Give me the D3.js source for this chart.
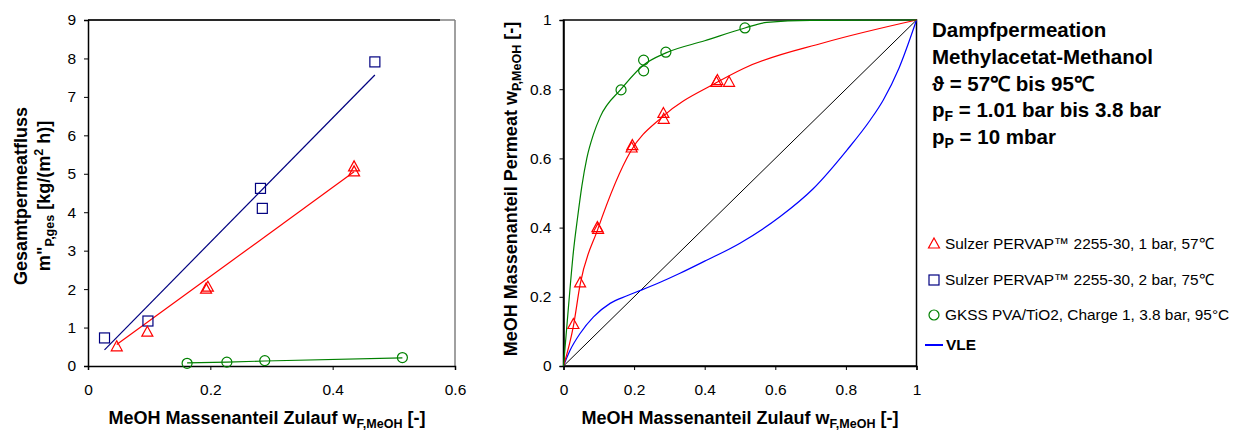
<!DOCTYPE html>
<html>
<head>
<meta charset="utf-8">
<style>
  body { margin: 0; background: #fff; }
  text { font-family: "Liberation Sans", Arial, sans-serif; }
</style>
</head>
<body>
<div id="chart"></div>
<script src="https://d3js.org/d3.v7.min.js"></script>
<script>
// ---- data: left chart (total permeate flux) ----
var fluxTriX = [0.047, 0.097, 0.193, 0.196, 0.435, 0.435];
var fluxTriY = [0.50, 0.88, 2.00, 2.05, 5.05, 5.18];
var fluxSqX = [0.027, 0.098, 0.282, 0.285, 0.469];
var fluxSqY = [0.73, 1.17, 4.62, 4.10, 7.91];
var fluxCircX = [0.162, 0.227, 0.289, 0.514];
var fluxCircY = [0.07, 0.10, 0.14, 0.22];
var fitTriX = [0.047, 0.435];
var fitTriY = [0.56, 5.05];
var fitSqX = [0.027, 0.469];
var fitSqY = [0.42, 7.57];
var fitCircX = [0.162, 0.227, 0.289, 0.514];
var fitCircY = [0.08, 0.10, 0.13, 0.21];
var fluxXTicks = [0, 0.2, 0.4, 0.6];
var fluxYTicks = [0, 1, 2, 3, 4, 5, 6, 7, 8, 9];

// ---- data: right chart (separation diagram) ----
var selTriX = [0.028, 0.047, 0.096, 0.098, 0.193, 0.195, 0.283, 0.284, 0.433, 0.436, 0.469];
var selTriY = [0.12, 0.24, 0.40, 0.395, 0.63, 0.637, 0.73, 0.713, 0.82, 0.825, 0.82];
var selCircX = [0.163, 0.227, 0.227, 0.290, 0.514];
var selCircY = [0.798, 0.884, 0.853, 0.907, 0.977];
var curveTriX = [0, 0.028, 0.047, 0.097, 0.19, 0.28, 0.435, 0.51, 0.74, 1];
var curveTriY = [0, 0.115, 0.235, 0.395, 0.62, 0.72, 0.82, 0.86, 0.935, 1];
var curveCircX = [0, 0.014, 0.028, 0.04, 0.052, 0.066, 0.085, 0.104, 0.163, 0.227, 0.29, 0.4, 0.514, 0.576, 0.7, 1];
var curveCircY = [0, 0.17, 0.33, 0.43, 0.52, 0.6, 0.67, 0.72, 0.80, 0.87, 0.905, 0.94, 0.977, 0.993, 0.999, 1];
var vleX = [0, 0.019, 0.047, 0.085, 0.132, 0.18, 0.222, 0.274, 0.33, 0.4, 0.5, 0.614, 0.708, 0.803, 0.869, 0.906, 0.95, 1];
var vleY = [0, 0.046, 0.094, 0.142, 0.181, 0.203, 0.220, 0.242, 0.268, 0.303, 0.355, 0.432, 0.513, 0.624, 0.711, 0.769, 0.86, 1];
var diagX = [0, 1];
var diagY = [0, 1];
var selTicks = [0, 0.2, 0.4, 0.6, 0.8, 1];

var legendLabels = ["Sulzer PERVAP\u2122 2255-30, 1 bar, 57\u2103",
                    "Sulzer PERVAP\u2122 2255-30, 2 bar, 75\u2103",
                    "GKSS PVA/TiO2, Charge 1, 3.8 bar, 95\u00b0C",
                    "VLE"];

var width = 1239;
var height = 432;
var svg = d3.select("#chart").append("svg")
  .attr("width", width)
  .attr("height", height);

function zip(xs, ys) {
  return xs.map(function(x, i) { return [x, ys[i]]; });
}

function fmt(d) { return d === 0 ? "0" : d3.format("~g")(d); }

// markers
function triangle(g, x, y, color) {
  g.append("path")
    .attr("d", "M" + x + "," + (y - 6) + " L" + (x + 5.5) + "," + (y + 4) + " L" + (x - 5.5) + "," + (y + 4) + " Z")
    .attr("fill", "none").attr("stroke", color).attr("stroke-width", 1.2);
}
function square(g, x, y, color) {
  g.append("rect")
    .attr("x", x - 5).attr("y", y - 5).attr("width", 10).attr("height", 10)
    .attr("fill", "none").attr("stroke", color).attr("stroke-width", 1.2);
}
function circle(g, x, y, color) {
  g.append("circle")
    .attr("cx", x).attr("cy", y).attr("r", 5)
    .attr("fill", "none").attr("stroke", color).attr("stroke-width", 1.2);
}

var red = "#ff0000", navy = "#000080", green = "#008000", blue = "#0000ff";
var tickFont = 15.5, titleFont = 18, subFont = 12.5;

function styleAxis(g) {
  g.select(".domain").attr("stroke-width", 1.5);
  g.selectAll("text").attr("font-size", tickFont).attr("font-family", "Liberation Sans, Arial");
}

// ================= left chart =================
var x1 = d3.scaleLinear().domain([0, 0.6]).range([88, 455]);
var y1 = d3.scaleLinear().domain([0, 9]).range([366, 20]);
var left = svg.append("g");

// frame: grey right edge, black top
left.append("line").attr("x1", 455).attr("x2", 455).attr("y1", 20).attr("y2", 366)
  .attr("stroke", "#808080").attr("stroke-width", 1.5);
left.append("line").attr("x1", 88).attr("x2", 455).attr("y1", 20).attr("y2", 20)
  .attr("stroke", "#808080").attr("stroke-width", 1.5);
left.append("line").attr("x1", 88).attr("x2", 440).attr("y1", 20).attr("y2", 20)
  .attr("stroke", "#000").attr("stroke-width", 1.5);

left.append("g").attr("transform", "translate(0,366)")
  .call(d3.axisBottom(x1).tickValues(fluxXTicks).tickSize(4).tickPadding(14).tickFormat(fmt))
  .call(styleAxis);
left.append("g").attr("transform", "translate(88,0)")
  .call(d3.axisLeft(y1).tickValues(fluxYTicks).tickSize(4).tickPadding(8).tickFormat(fmt))
  .call(styleAxis);

var line1 = d3.line().x(function(d) { return x1(d[0]); }).y(function(d) { return y1(d[1]); });
left.append("path").attr("d", line1(zip(fitSqX, fitSqY))).attr("fill", "none").attr("stroke", navy).attr("stroke-width", 1.2);
left.append("path").attr("d", line1(zip(fitTriX, fitTriY))).attr("fill", "none").attr("stroke", red).attr("stroke-width", 1.2);
left.append("path").attr("d", line1(zip(fitCircX, fitCircY))).attr("fill", "none").attr("stroke", green).attr("stroke-width", 1.2);

fluxSqX.forEach(function(v, i) { square(left, x1(v), y1(fluxSqY[i]), navy); });
fluxTriX.forEach(function(v, i) { triangle(left, x1(v), y1(fluxTriY[i]), red); });
fluxCircX.forEach(function(v, i) { circle(left, x1(v), y1(fluxCircY[i]), green); });

// axis titles
var xt1 = left.append("text").attr("x", 267).attr("y", 424).attr("text-anchor", "middle")
  .attr("font-size", titleFont).attr("font-weight", "bold");
xt1.append("tspan").text("MeOH Massenanteil Zulauf w");
xt1.append("tspan").attr("font-size", subFont).attr("dy", 4).text("F,MeOH");
xt1.append("tspan").attr("dy", -4).text(" [-]");

var yt1 = left.append("g").attr("transform", "translate(27,196) rotate(-90)");
yt1.append("text").attr("text-anchor", "middle").attr("font-size", titleFont).attr("font-weight", "bold")
  .text("Gesamtpermeatfluss");
var yt1b = yt1.append("text").attr("y", 23).attr("text-anchor", "middle").attr("font-size", titleFont).attr("font-weight", "bold");
yt1b.append("tspan").text("m\"");
yt1b.append("tspan").attr("font-size", subFont).attr("dy", 4).text("P,ges");
yt1b.append("tspan").attr("dy", -4).text(" [kg/(m");
yt1b.append("tspan").attr("font-size", subFont).attr("dy", -7).text("2");
yt1b.append("tspan").attr("dy", 7).text(" h)]");

// ================= right chart =================
var x2 = d3.scaleLinear().domain([0, 1]).range([563.5, 916.5]);
var y2 = d3.scaleLinear().domain([0, 1]).range([366, 20]);
var right = svg.append("g");

right.append("rect").attr("x", 563.5).attr("y", 20).attr("width", 353).attr("height", 346)
  .attr("fill", "none").attr("stroke", "#000").attr("stroke-width", 1.5);

right.append("g").attr("transform", "translate(0,366)")
  .call(d3.axisBottom(x2).tickValues(selTicks).tickSize(4).tickPadding(14).tickFormat(fmt))
  .call(styleAxis);
right.append("g").attr("transform", "translate(563.5,0)")
  .call(d3.axisLeft(y2).tickValues(selTicks).tickSize(4).tickPadding(8).tickFormat(fmt))
  .call(styleAxis);

var line2 = d3.line().x(function(d) { return x2(d[0]); }).y(function(d) { return y2(d[1]); });
var smooth2 = d3.line().curve(d3.curveMonotoneX).x(function(d) { return x2(d[0]); }).y(function(d) { return y2(d[1]); });
right.append("path").attr("d", line2(zip(diagX, diagY))).attr("fill", "none").attr("stroke", "#000").attr("stroke-width", 1);
right.append("path").attr("d", smooth2(zip(vleX, vleY))).attr("fill", "none").attr("stroke", blue).attr("stroke-width", 1.2);
right.append("path").attr("d", smooth2(zip(curveTriX, curveTriY))).attr("fill", "none").attr("stroke", red).attr("stroke-width", 1.2);
right.append("path").attr("d", smooth2(zip(curveCircX, curveCircY))).attr("fill", "none").attr("stroke", green).attr("stroke-width", 1.2);

selTriX.forEach(function(v, i) { triangle(right, x2(v), y2(selTriY[i]), red); });
selCircX.forEach(function(v, i) { circle(right, x2(v), y2(selCircY[i]), green); });

var xt2 = right.append("text").attr("x", 740).attr("y", 424).attr("text-anchor", "middle")
  .attr("font-size", titleFont).attr("font-weight", "bold");
xt2.append("tspan").text("MeOH Massenanteil Zulauf w");
xt2.append("tspan").attr("font-size", subFont).attr("dy", 4).text("F,MeOH");
xt2.append("tspan").attr("dy", -4).text(" [-]");

var yt2 = right.append("text").attr("transform", "translate(517,189) rotate(-90)")
  .attr("text-anchor", "middle").attr("font-size", titleFont).attr("font-weight", "bold");
yt2.append("tspan").text("MeOH Massenanteil Permeat w");
yt2.append("tspan").attr("font-size", subFont).attr("dy", 4).text("P,MeOH");
yt2.append("tspan").attr("dy", -4).text(" [-]");

// ================= info text =================
var info = svg.append("g").attr("font-size", 20.5).attr("font-weight", "bold");
info.append("text").attr("x", 932).attr("y", 37).text("Dampfpermeation");
info.append("text").attr("x", 932).attr("y", 64).text("Methylacetat-Methanol");
info.append("text").attr("x", 932).attr("y", 91).text("\u03d1 = 57\u2103 bis 95\u2103");
var pf = info.append("text").attr("x", 932).attr("y", 117);
pf.append("tspan").text("p");
pf.append("tspan").attr("font-size", 14).attr("dy", 4).text("F");
pf.append("tspan").attr("dy", -4).text(" = 1.01 bar bis 3.8 bar");
var pp = info.append("text").attr("x", 932).attr("y", 144);
pp.append("tspan").text("p");
pp.append("tspan").attr("font-size", 14).attr("dy", 4).text("P");
pp.append("tspan").attr("dy", -4).text(" = 10 mbar");

// ================= legend =================
var lg = svg.append("g");
var legY = [249, 285, 320, 350];
triangle(lg, 934, legY[0] - 5, red);
square(lg, 934, legY[1] - 5, navy);
circle(lg, 934, legY[2] - 5, green);
lg.append("line").attr("x1", 925).attr("x2", 943).attr("y1", legY[3] - 5).attr("y2", legY[3] - 5)
  .attr("stroke", blue).attr("stroke-width", 2);
legendLabels.forEach(function(t, i) {
  lg.append("text").attr("x", i === 3 ? 946 : 945).attr("y", legY[i])
    .attr("font-size", 15.4).attr("font-weight", i === 3 ? "bold" : "normal").text(t);
});
</script>
</body>
</html>
